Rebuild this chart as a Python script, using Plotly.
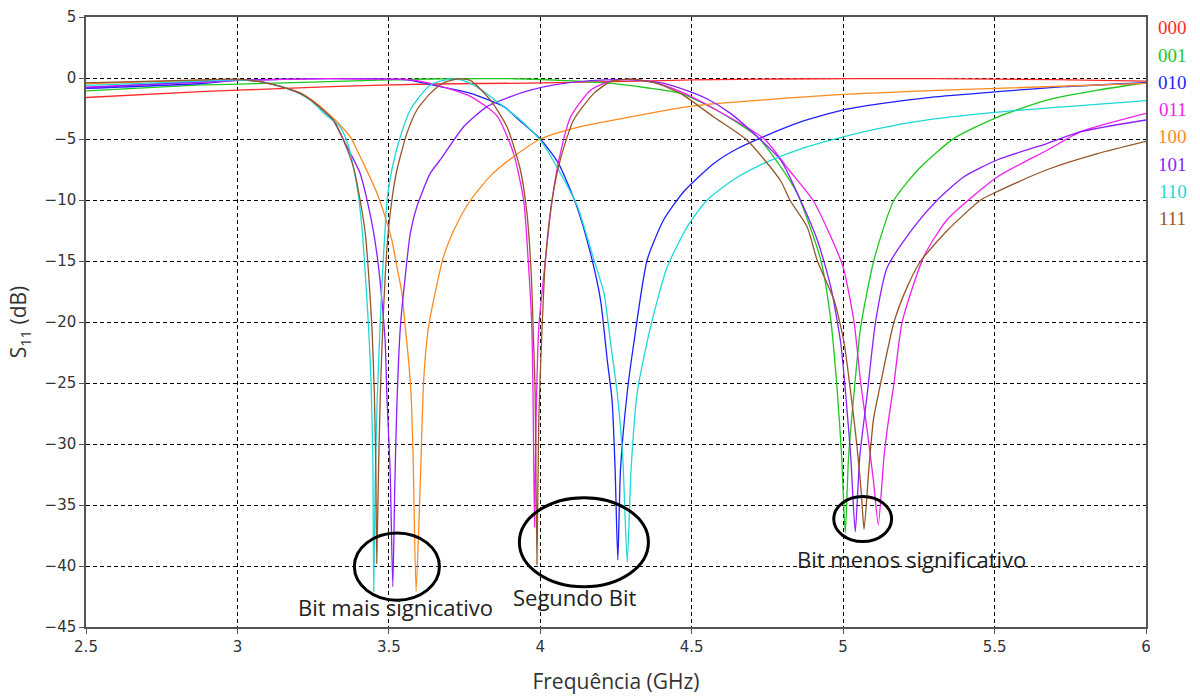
import plotly.graph_objects as go

# ---------------- data ----------------
labels = ["000", "001", "010", "011", "100", "101", "110", "111"]
colors = ["#ff2a2a", "#1ec81e", "#1f1fff", "#f01ef0", "#ff8a1e", "#8c1eff", "#1ed8d8", "#96562a"]

x_000 = [2.5, 2.88, 3.0, 3.31, 3.64, 3.96, 4.23, 4.5, 4.8, 5.3, 5.7, 6.0]
y_000 = [-1.6, -1.12, -1.0, -0.71, -0.49, -0.42, -0.3, -0.16, -0.08, -0.05, -0.14, -0.25]

x_001 = [2.5, 2.88, 3.0, 3.3, 3.64, 3.95, 4.21, 4.35, 4.463, 4.58, 4.716, 4.78, 4.849, 4.926, 4.959,
         4.981, 4.995, 5.007, 5.018, 5.036, 5.058, 5.102, 5.168, 5.256, 5.366, 5.51, 5.675, 5.84, 6.0]
y_001 = [-1.05, -0.57, -0.5, -0.3, -0.08, -0.08, -0.38, -0.8, -1.26, -2.6, -4.8, -6.8, -9.5, -14.9, -19.8,
         -25.8, -31.0, -37.3, -31.0, -25.8, -20.4, -14.9, -10.0, -7.3, -4.95, -3.2, -1.8, -1.0, -0.39]

x_010 = [2.5, 2.88, 3.0, 3.3, 3.56, 3.67, 3.77, 3.88, 3.93, 4.0, 4.06, 4.12, 4.166, 4.199, 4.221, 4.237,
         4.247, 4.256, 4.265, 4.287, 4.309, 4.353, 4.408, 4.474, 4.573, 4.65, 4.738, 4.86, 5.003, 5.124,
         5.289, 5.51, 5.729, 6.0]
y_010 = [-0.85, -0.45, -0.2, -0.05, -0.16, -0.71, -1.26, -2.35, -3.44, -5.0, -7.0, -10.5, -14.4, -18.2,
         -23.1, -26.4, -32.0, -39.5, -32.0, -25.8, -21.7, -14.9, -11.6, -9.3, -7.0, -5.8, -4.8, -3.6, -2.6,
         -2.1, -1.58, -1.12, -0.71, -0.39]

x_011 = [2.5, 2.88, 3.0, 3.3, 3.47, 3.55, 3.637, 3.769, 3.857, 3.912, 3.945, 3.96, 3.972, 3.976, 3.981,
         3.986, 3.995, 4.017, 4.039, 4.066, 4.1, 4.166, 4.232, 4.3, 4.38, 4.463, 4.58, 4.74, 4.82, 4.9, 4.95,
         5.0, 5.036, 5.058, 5.08, 5.1, 5.116, 5.135, 5.15, 5.168, 5.195, 5.267, 5.344, 5.51, 5.675, 5.785, 6.0]
y_011 = [-0.75, -0.35, -0.2, -0.05, -0.1, -0.1, -0.44, -1.5, -3.1, -6.2, -10.0, -14.9, -20.4, -25.8, -36.8,
         -28.0, -20.4, -14.9, -10.0, -6.2, -3.2, -1.0, -0.25, -0.1, -0.4, -1.12, -2.6, -5.0, -7.5, -10.0, -12.5,
         -15.5, -20.0, -25.0, -29.0, -33.0, -36.6, -31.0, -28.0, -25.0, -20.0, -14.6, -11.6, -8.1, -5.9, -4.4,
         -2.9]

x_100 = [2.5, 2.88, 3.0, 3.075, 3.12, 3.163, 3.207, 3.24, 3.262, 3.29, 3.317, 3.372, 3.416, 3.461, 3.488,
         3.51, 3.527, 3.543, 3.554, 3.565, 3.573, 3.58, 3.59, 3.604, 3.615, 3.631, 3.68, 3.72, 3.77, 3.84,
         3.912, 4.0, 4.13, 4.21, 4.5, 5.0, 5.289, 5.51, 6.0]
y_100 = [-0.45, -0.2, -0.15, -0.3, -0.55, -0.85, -1.2, -1.7, -2.1, -2.7, -3.3, -4.8, -7.0, -9.45, -11.4,
         -13.3, -15.5, -17.6, -20.4, -23.1, -25.8, -31.0, -42.1, -33.0, -24.75, -20.4, -14.7, -12.2, -10.0,
         -7.9, -6.45, -5.0, -4.0, -3.6, -2.3, -1.35, -1.04, -0.85, -0.44]

x_101 = [2.5, 2.88, 3.0, 3.075, 3.12, 3.163, 3.207, 3.24, 3.262, 3.29, 3.317, 3.361, 3.405, 3.428, 3.45,
         3.466, 3.477, 3.488, 3.494, 3.504, 3.513, 3.52, 3.527, 3.538, 3.554, 3.571, 3.593, 3.637, 3.67,
         3.747, 3.824, 3.9, 3.967, 4.05, 4.166, 4.3, 4.4, 4.463, 4.55, 4.628, 4.716, 4.793, 4.859, 4.915,
         4.959, 4.992, 5.008, 5.025, 5.04, 5.055, 5.08, 5.107, 5.146, 5.234, 5.311, 5.399, 5.51, 5.675,
         5.785, 6.0]
y_101 = [-0.8, -0.3, -0.15, -0.3, -0.55, -0.85, -1.26, -1.75, -2.2, -2.8, -3.5, -5.6, -7.8, -10.0, -12.7,
         -15.5, -18.2, -21.7, -26.4, -32.0, -41.7, -33.0, -26.4, -20.4, -16.3, -12.7, -10.5, -7.8, -6.7,
         -4.0, -2.35, -1.55, -1.0, -0.55, -0.22, -0.15, -0.4, -0.85, -1.7, -2.9, -4.8, -6.7, -10.0, -13.3,
         -17.1, -21.7, -25.8, -31.0, -37.2, -31.0, -25.8, -20.0, -15.5, -12.2, -10.0, -8.1, -6.7, -5.35,
         -4.4, -3.44]

x_110 = [2.5, 2.88, 3.0, 3.075, 3.12, 3.163, 3.207, 3.24, 3.262, 3.29, 3.339, 3.367, 3.395, 3.411, 3.422,
         3.433, 3.441, 3.447, 3.45, 3.455, 3.462, 3.47, 3.478, 3.488, 3.494, 3.51, 3.538, 3.571, 3.615,
         3.637, 3.68, 3.725, 3.769, 3.81, 3.857, 3.934, 4.0, 4.055, 4.122, 4.177, 4.21, 4.232, 4.254, 4.272,
         4.287, 4.3, 4.32, 4.364, 4.419, 4.485, 4.551, 4.64, 4.738, 4.86, 5.003, 5.124, 5.289, 5.51, 6.0]
y_110 = [-0.6, -0.25, -0.15, -0.3, -0.55, -0.85, -1.3, -1.8, -2.3, -3.0, -4.0, -5.6, -8.9, -12.2, -16.0,
         -20.4, -24.8, -31.0, -42.1, -33.0, -26.0, -21.0, -16.5, -12.2, -10.0, -7.5, -4.8, -2.6, -1.1,
         -0.57, -0.2, -0.08, -0.44, -1.05, -1.94, -3.44, -5.1, -7.3, -10.5, -14.9, -17.6, -21.7, -25.8,
         -31.0, -39.7, -32.0, -25.8, -20.4, -15.5, -12.2, -10.0, -8.3, -7.0, -5.8, -4.8, -4.1, -3.4, -2.8,
         -1.86]

x_111 = [2.5, 2.88, 3.0, 3.075, 3.12, 3.163, 3.207, 3.24, 3.262, 3.29, 3.317, 3.35, 3.383, 3.405, 3.422,
         3.433, 3.444, 3.452, 3.457, 3.46, 3.466, 3.472, 3.48, 3.494, 3.51, 3.527, 3.56, 3.593, 3.637,
         3.68, 3.725, 3.769, 3.835, 3.89, 3.934, 3.956, 3.97, 3.978, 3.983, 3.989, 3.995, 4.006, 4.017,
         4.039, 4.066, 4.11, 4.177, 4.232, 4.3, 4.38, 4.463, 4.573, 4.683, 4.793, 4.824, 4.881, 4.915, 4.97,
         5.003, 5.025, 5.045, 5.06, 5.069, 5.085, 5.1, 5.124, 5.168, 5.212, 5.256, 5.344, 5.454, 5.51,
         5.675, 5.84, 6.0]
y_111 = [-0.4, -0.15, -0.1, -0.3, -0.55, -0.85, -1.26, -1.75, -2.2, -2.8, -3.44, -5.1, -7.3, -10.0,
         -12.7, -16.0, -20.4, -25.8, -32.0, -39.8, -32.0, -25.8, -20.4, -13.8, -10.0, -7.5, -4.5, -2.6,
         -1.26, -0.4, -0.08, -0.2, -1.8, -4.0, -7.5, -11.1, -16.0, -21.7, -25.8, -39.9, -28.0, -20.4,
         -14.9, -10.0, -6.7, -3.44, -1.26, -0.3, -0.1, -0.4, -1.26, -3.2, -5.1, -8.4, -10.0, -12.2, -15.0,
         -18.2, -21.7, -25.8, -30.0, -34.0, -37.0, -32.0, -28.0, -25.0, -20.0, -17.1, -15.0, -12.5, -10.0,
         -9.3, -7.5, -6.2, -5.2]

series_x = [x_000, x_001, x_010, x_011, x_100, x_101, x_110, x_111]
series_y = [y_000, y_001, y_010, y_011, y_100, y_101, y_110, y_111]

x_ticks = [2.5, 3, 3.5, 4, 4.5, 5, 5.5, 6]
x_tick_text = ["2.5", "3", "3.5", "4", "4.5", "5", "5.5", "6"]
y_ticks = [5, 0, -5, -10, -15, -20, -25, -30, -35, -40, -45]

notes = ["Bit mais signicativo", "Segundo Bit", "Bit menos significativo"]
notes_x = [3.523, 4.114, 5.225]
notes_y = [-43.4, -42.5, -39.4]
ellipses = [(3.386, 3.667, -37.3, -42.8), (3.931, 4.357, -34.4, -41.7), (4.969, 5.160, -34.3, -38.0)]

# ---------------- figure ----------------
fig = go.Figure()
for lab, col, xs, ys in zip(labels, colors, series_x, series_y):
    fig.add_trace(go.Scatter(x=xs, y=ys, mode="lines", name=lab,
                             line=dict(color=col, width=1.3, shape="spline", smoothing=0.6),
                             showlegend=False))

shapes = []
for (x0, x1, y0, y1) in ellipses:
    shapes.append(dict(type="circle", xref="x", yref="y", x0=x0, x1=x1, y0=y0, y1=y1,
                       line=dict(color="black", width=3)))

annotations = []
for t, ax, ay in zip(notes, notes_x, notes_y):
    annotations.append(dict(text=t, x=ax, y=ay, xref="x", yref="y", showarrow=False,
                            font=dict(family="Open Sans", size=22, color="#222222")))
for i, (lab, col) in enumerate(zip(labels, colors)):
    annotations.append(dict(text=lab, x=1.025, y=0.982 - i * 0.0446, xref="paper", yref="paper",
                            showarrow=False, xanchor="center", yanchor="middle",
                            font=dict(family="Liberation Serif", size=19, color=col)))

axis_common = dict(showgrid=True, gridcolor="black", griddash="4px,3px", gridwidth=1,
                   showline=True, linecolor="#555555", linewidth=1.5, mirror=True,
                   ticks="outside", ticklen=5, tickcolor="#555555", zeroline=False,
                   automargin=False,
                   tickfont=dict(family="DejaVu Sans", size=15, color="#333333"))

fig.update_layout(
    width=1200, height=700,
    margin=dict(l=86, r=54, t=17, b=73, autoexpand=False),
    paper_bgcolor="white", plot_bgcolor="white",
    xaxis=dict(range=[2.5, 6], tickvals=x_ticks, ticktext=x_tick_text,
               title=dict(text="Frequência (GHz)", font=dict(family="Open Sans", size=21, color="#333333"),
                          standoff=20),
               **axis_common),
    yaxis=dict(range=[-45, 5], tickvals=y_ticks,
               title=dict(text="S<sub>11</sub> (dB)", font=dict(family="Open Sans", size=21, color="#333333"),
                          standoff=12),
               **axis_common),
    shapes=shapes,
    annotations=annotations,
)

fig.write_html("out.html")
